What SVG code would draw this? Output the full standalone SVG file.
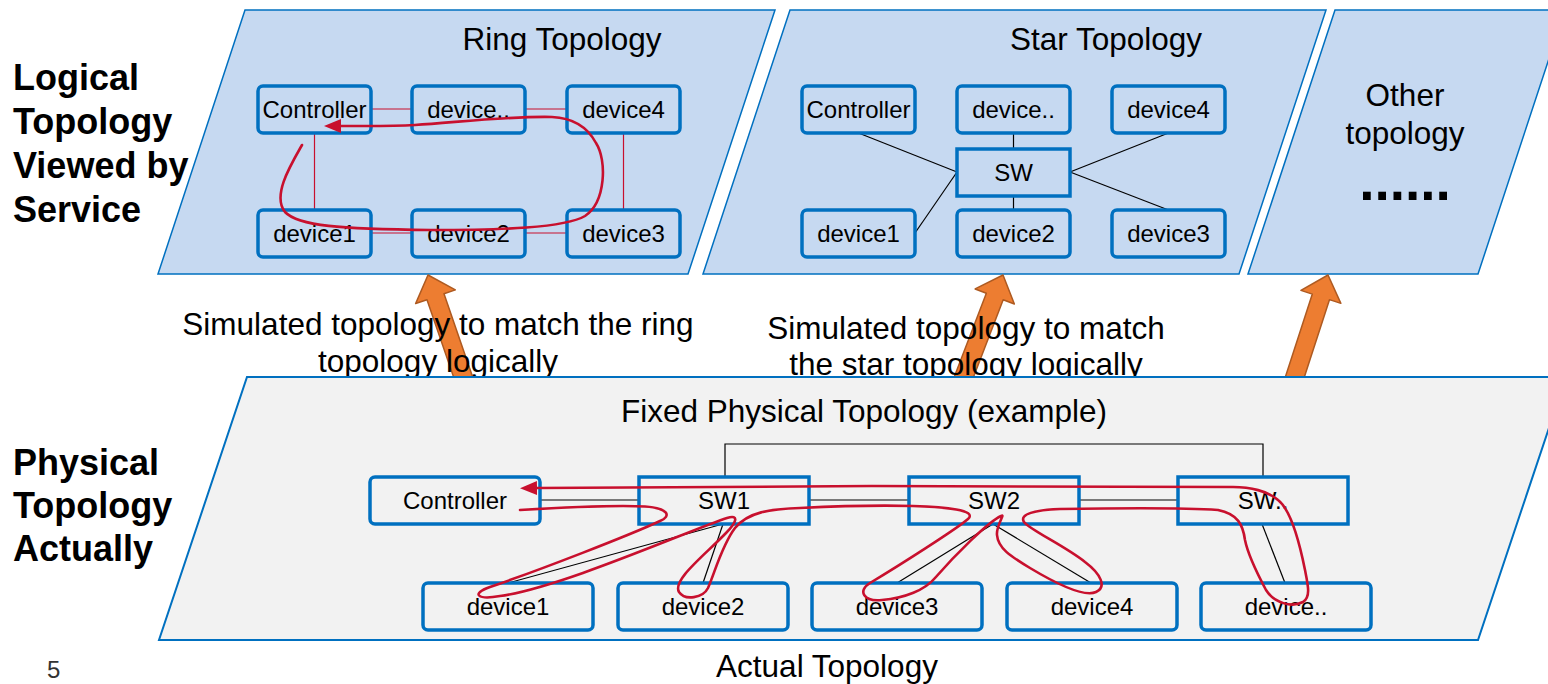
<svg xmlns="http://www.w3.org/2000/svg" width="1548" height="684" viewBox="0 0 1548 684">
<defs>
<style>
text{font-family:"Liberation Sans",Arial,sans-serif;fill:#000}
.panel{fill:#C6D9F1;stroke:#0070C0;stroke-width:1.5}
.ppanel{fill:#F2F2F2;stroke:#0070C0;stroke-width:2}
.box{fill:none;stroke:#0070C0;stroke-width:3.5}
.lbl{font-size:24px;text-anchor:middle}
.title{font-size:31.5px;text-anchor:middle}
.side{font-size:36px;font-weight:bold}
.blk{stroke:#000;stroke-width:1.2;fill:none}
.rl{stroke:#C8102E;stroke-width:1.2;fill:none}
.rp{stroke:#C8102E;stroke-width:2.6;fill:none;stroke-linecap:round}
.arr{fill:#ED7D31;stroke:#AE5A21;stroke-width:1.5;stroke-linejoin:round}
</style>
<marker id="ah" markerUnits="userSpaceOnUse" markerWidth="17" markerHeight="14" refX="0" refY="7" orient="auto">
<path d="M0,0 L17,7 L0,14 Z" fill="#C8102E"/>
</marker>
<path id="bigarrow" d="M0,0 L21,23 L9,23 L9,125 L-9,125 L-9,23 L-21,23 Z"/>
</defs>

<!-- top panels -->
<g id="panel-ring"><polygon class="panel" points="245,10 775,10 688,274 158,274"/>
<text class="title" x="562" y="50">Ring Topology</text></g>
<g id="panel-star"><polygon class="panel" points="790,10 1326,10 1239,274 703,274"/>
<text class="title" x="1106" y="50">Star Topology</text></g>
<g id="panel-other"><polygon class="panel" points="1335,10 1565,10 1478,274 1248,274"/>
<text class="title" x="1405" y="106">Other</text>
<text class="title" x="1405" y="144">topology</text>
<text x="1405" y="200" style="font-size:55px;font-weight:bold;text-anchor:middle">......</text></g>

<!-- ring connectors -->
<g id="ring-connectors">
<line class="rl" x1="371" y1="109" x2="412" y2="109"/>
<line class="rl" x1="525" y1="109" x2="567" y2="109"/>
<line class="rl" x1="314.5" y1="133" x2="314.5" y2="210"/>
<line class="rl" x1="623.5" y1="133" x2="623.5" y2="210"/>
<line class="rl" x1="371" y1="233" x2="412" y2="233"/>
<line class="rl" x1="525" y1="233" x2="567" y2="233"/>
</g>
<!-- ring nodes -->
<g id="ring-controller"><rect class="box" x="258" y="86" width="113" height="47" rx="5"/><text class="lbl" x="314.5" y="118">Controller</text></g>
<g id="ring-devicedots"><rect class="box" x="412" y="86" width="113" height="47" rx="5"/><text class="lbl" x="468.5" y="118">device..</text></g>
<g id="ring-device4"><rect class="box" x="567" y="86" width="113" height="47" rx="5"/><text class="lbl" x="623.5" y="118">device4</text></g>
<g id="ring-device1"><rect class="box" x="258" y="210" width="113" height="47" rx="5"/><text class="lbl" x="314.5" y="242">device1</text></g>
<g id="ring-device2"><rect class="box" x="412" y="210" width="113" height="47" rx="5"/><text class="lbl" x="468.5" y="242">device2</text></g>
<g id="ring-device3"><rect class="box" x="567" y="210" width="113" height="47" rx="5"/><text class="lbl" x="623.5" y="242">device3</text></g>
<g id="ring-flow">
<path class="rp" marker-end="url(#ah)" d="M302,145 C290,166 272,196 285,212 C298,226 340,229 431,230 C500,230 565,228 585,216 C606,202 607,160 596,143 C588,128 575,118 552,117 C510,116 460,122 415,125 C390,126.5 365,126 341,126"/>
</g>

<!-- star connectors -->
<g id="star-connectors">
<line class="blk" x1="858.5" y1="133" x2="957" y2="172"/>
<line class="blk" x1="1013.5" y1="133" x2="1013.5" y2="149"/>
<line class="blk" x1="1168.5" y1="133" x2="1070" y2="172"/>
<line class="blk" x1="915" y1="233" x2="957" y2="172"/>
<line class="blk" x1="1013.5" y1="196" x2="1013.5" y2="210"/>
<line class="blk" x1="1070" y1="172" x2="1168.5" y2="210"/>
</g>
<!-- star nodes -->
<g id="star-controller"><rect class="box" x="802" y="86" width="113" height="47" rx="5"/><text class="lbl" x="858.5" y="118">Controller</text></g>
<g id="star-devicedots"><rect class="box" x="957" y="86" width="113" height="47" rx="5"/><text class="lbl" x="1013.5" y="118">device..</text></g>
<g id="star-device4"><rect class="box" x="1112" y="86" width="113" height="47" rx="5"/><text class="lbl" x="1168.5" y="118">device4</text></g>
<g id="star-sw"><rect class="box" x="957" y="149" width="113" height="47"/><text class="lbl" x="1013.5" y="181">SW</text></g>
<g id="star-device1"><rect class="box" x="802" y="210" width="113" height="47" rx="5"/><text class="lbl" x="858.5" y="242">device1</text></g>
<g id="star-device2"><rect class="box" x="957" y="210" width="113" height="47" rx="5"/><text class="lbl" x="1013.5" y="242">device2</text></g>
<g id="star-device3"><rect class="box" x="1112" y="210" width="113" height="47" rx="5"/><text class="lbl" x="1168.5" y="242">device3</text></g>

<!-- orange arrows -->
<g id="mapping-arrows">
<use href="#bigarrow" class="arr" transform="translate(428,275) rotate(-19)"/>
<use href="#bigarrow" class="arr" transform="translate(1003,275) rotate(21)"/>
<use href="#bigarrow" class="arr" transform="translate(1328,275) rotate(18)"/>
</g>

<!-- captions -->
<g id="caption-ring">
<text class="title" x="438" y="335">Simulated topology to match the ring</text>
<text class="title" x="438" y="372">topology logically</text>
</g>
<g id="caption-star">
<text class="title" x="966" y="339">Simulated topology to match</text>
<text class="title" x="966" y="375">the star topology logically</text>
</g>

<!-- physical panel -->
<g id="panel-physical"><polygon class="ppanel" points="247,377 1566,377 1478,640 159,640"/>
<text class="title" x="864" y="422">Fixed Physical Topology (example)</text></g>

<g id="physical-connectors">
<path class="blk" d="M725,477 V444 H1263 V477"/>
<line class="blk" x1="540" y1="500" x2="639" y2="500"/>
<line class="blk" x1="809" y1="500" x2="909" y2="500"/>
<line class="blk" x1="1079" y1="500" x2="1178" y2="500"/>
<line class="blk" x1="723" y1="524" x2="508" y2="583"/>
<line class="blk" x1="723" y1="524" x2="703" y2="583"/>
<line class="blk" x1="993" y1="524" x2="897" y2="583"/>
<line class="blk" x1="993" y1="524" x2="1091" y2="583"/>
<line class="blk" x1="1262" y1="524" x2="1285" y2="583"/>
</g>

<g id="phys-controller"><rect class="box" x="370" y="477" width="170" height="47" rx="5"/><text class="lbl" x="455" y="509">Controller</text></g>
<g id="phys-sw1"><rect class="box" x="639" y="477" width="170" height="47"/><text class="lbl" x="724" y="509">SW1</text></g>
<g id="phys-sw2"><rect class="box" x="909" y="477" width="170" height="47"/><text class="lbl" x="994" y="509">SW2</text></g>
<g id="phys-swdots"><rect class="box" x="1178" y="477" width="170" height="47"/><text class="lbl" x="1263" y="509">SW..</text></g>
<g id="phys-device1"><rect class="box" x="423" y="583" width="170" height="47" rx="5"/><text class="lbl" x="508" y="615">device1</text></g>
<g id="phys-device2"><rect class="box" x="618" y="583" width="170" height="47" rx="5"/><text class="lbl" x="703" y="615">device2</text></g>
<g id="phys-device3"><rect class="box" x="812" y="583" width="170" height="47" rx="5"/><text class="lbl" x="897" y="615">device3</text></g>
<g id="phys-device4"><rect class="box" x="1007" y="583" width="170" height="47" rx="5"/><text class="lbl" x="1092" y="615">device4</text></g>
<g id="phys-devicedots"><rect class="box" x="1201" y="583" width="170" height="47" rx="5"/><text class="lbl" x="1286" y="615">device..</text></g>

<g id="physical-flow">
<path class="rp" marker-end="url(#ah)" d="M520,510 C570,507 620,505 645,506.5 C668,508 672,516 660,521 C630,535 540,570 490,587 C470,594 478,600 500,596 C560,588 690,530 727,518 C740,514 736,523 726,533 C705,555 672,580 679,592 C685,601 703,598 708,588 C715,572 722,545 735,528 C748,512 770,509 800,508 C840,506 880,505 913,506 C945,507 978,510 968,519 C958,528 900,565 870,583 C857,591 864,602 882,600 C905,598 925,590 935,578 C955,555 988,522 1001,516 C1006,513 996,525 997,535 C998,548 1010,556 1030,568 C1060,586 1085,597 1096,592 C1107,587 1101,574 1085,562 C1065,546 1030,530 1024,522 C1019,514 1035,510 1060,509 C1120,508 1190,508 1218,510 C1238,514 1243,525 1245,540 C1248,555 1258,575 1266,590 C1274,603 1292,608 1303,602 C1311,597 1308,585 1305,570 C1299,540 1291,510 1278,500 C1268,491 1250,487 1233,487 C1100,485 700,486 537,488"/>
</g>

<!-- side labels -->
<g id="label-logical">
<text class="side" x="13" y="90">Logical</text>
<text class="side" x="13" y="134">Topology</text>
<text class="side" x="13" y="178">Viewed by</text>
<text class="side" x="13" y="222">Service</text>
</g>
<g id="label-physical">
<text class="side" x="13" y="475">Physical</text>
<text class="side" x="13" y="518">Topology</text>
<text class="side" x="13" y="561">Actually</text>
</g>
<text class="title" x="827" y="677">Actual Topology</text>
<text x="47" y="678" style="font-size:24px;fill:#333">5</text>
</svg>
